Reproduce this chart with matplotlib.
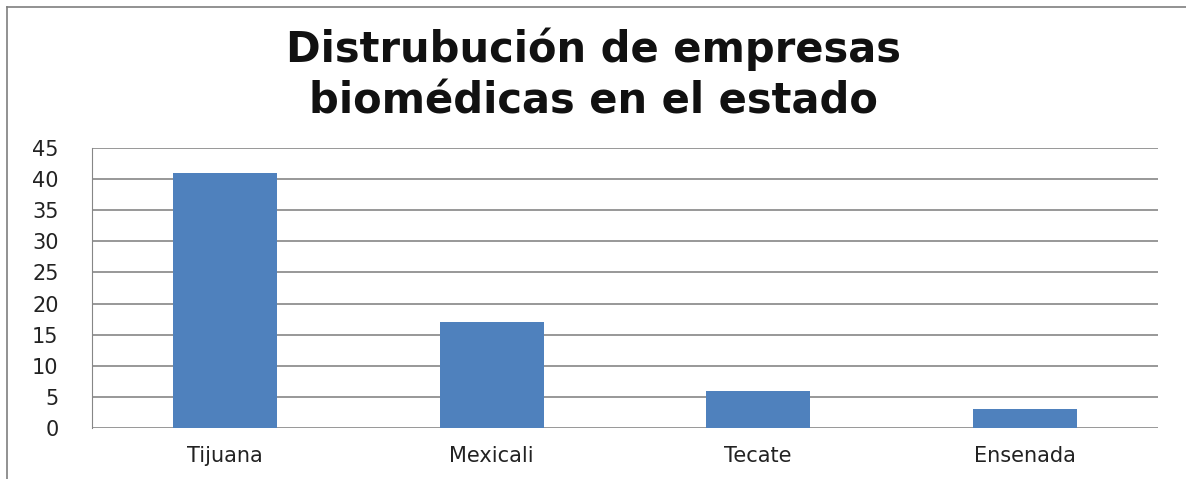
import matplotlib
matplotlib.use('Agg')
import matplotlib.pyplot as plt
from matplotlib.lines import Line2D

ciudades = ['Tijuana', 'Mexicali', 'Tecate', 'Ensenada']
empresas = [41, 17, 6, 3]
yticks = [0, 5, 10, 15, 20, 25, 30, 35, 40, 45]

plt.rcParams['font.family'] = ['DejaVu Sans']

fig = plt.figure(figsize=(11.86, 4.79), dpi=100)
ax = fig.add_axes([92 / 1186, 1 - 428 / 479, 1066 / 1186, 280 / 479])

ax.bar(range(len(ciudades)), empresas, width=0.39, color='#4F81BD', zorder=3)
ax.set_xlim(-0.5, len(ciudades) - 0.5)
ax.set_ylim(0, 45)
ax.set_yticks(yticks)
ax.set_xticks(range(len(ciudades)))
ax.set_xticklabels(ciudades)
ax.tick_params(axis='both', length=0, labelsize=15, colors='#222222')
ax.tick_params(axis='x', pad=13)
ax.tick_params(axis='y', pad=24)
ax.yaxis.grid(True, color='#868686', linewidth=1.2, zorder=0)

for s in ['top', 'right', 'bottom']:
    ax.spines[s].set_visible(False)
ax.spines['left'].set_color('#868686')

fig.text(0.5, 1 - 75 / 479, 'Distrubución de empresas\nbiomédicas en el estado',
         ha='center', va='center', fontsize=30, fontweight='bold',
         linespacing=1.3, color='#111111')

# borde del gráfico
fig.add_artist(Line2D([7 / 1186, 1], [1 - 7 / 479, 1 - 7 / 479], color='#7f7f7f', linewidth=1.2))
fig.add_artist(Line2D([7 / 1186, 7 / 1186], [0, 1 - 7 / 479], color='#7f7f7f', linewidth=1.2))

fig.savefig('out.png', dpi=100)
